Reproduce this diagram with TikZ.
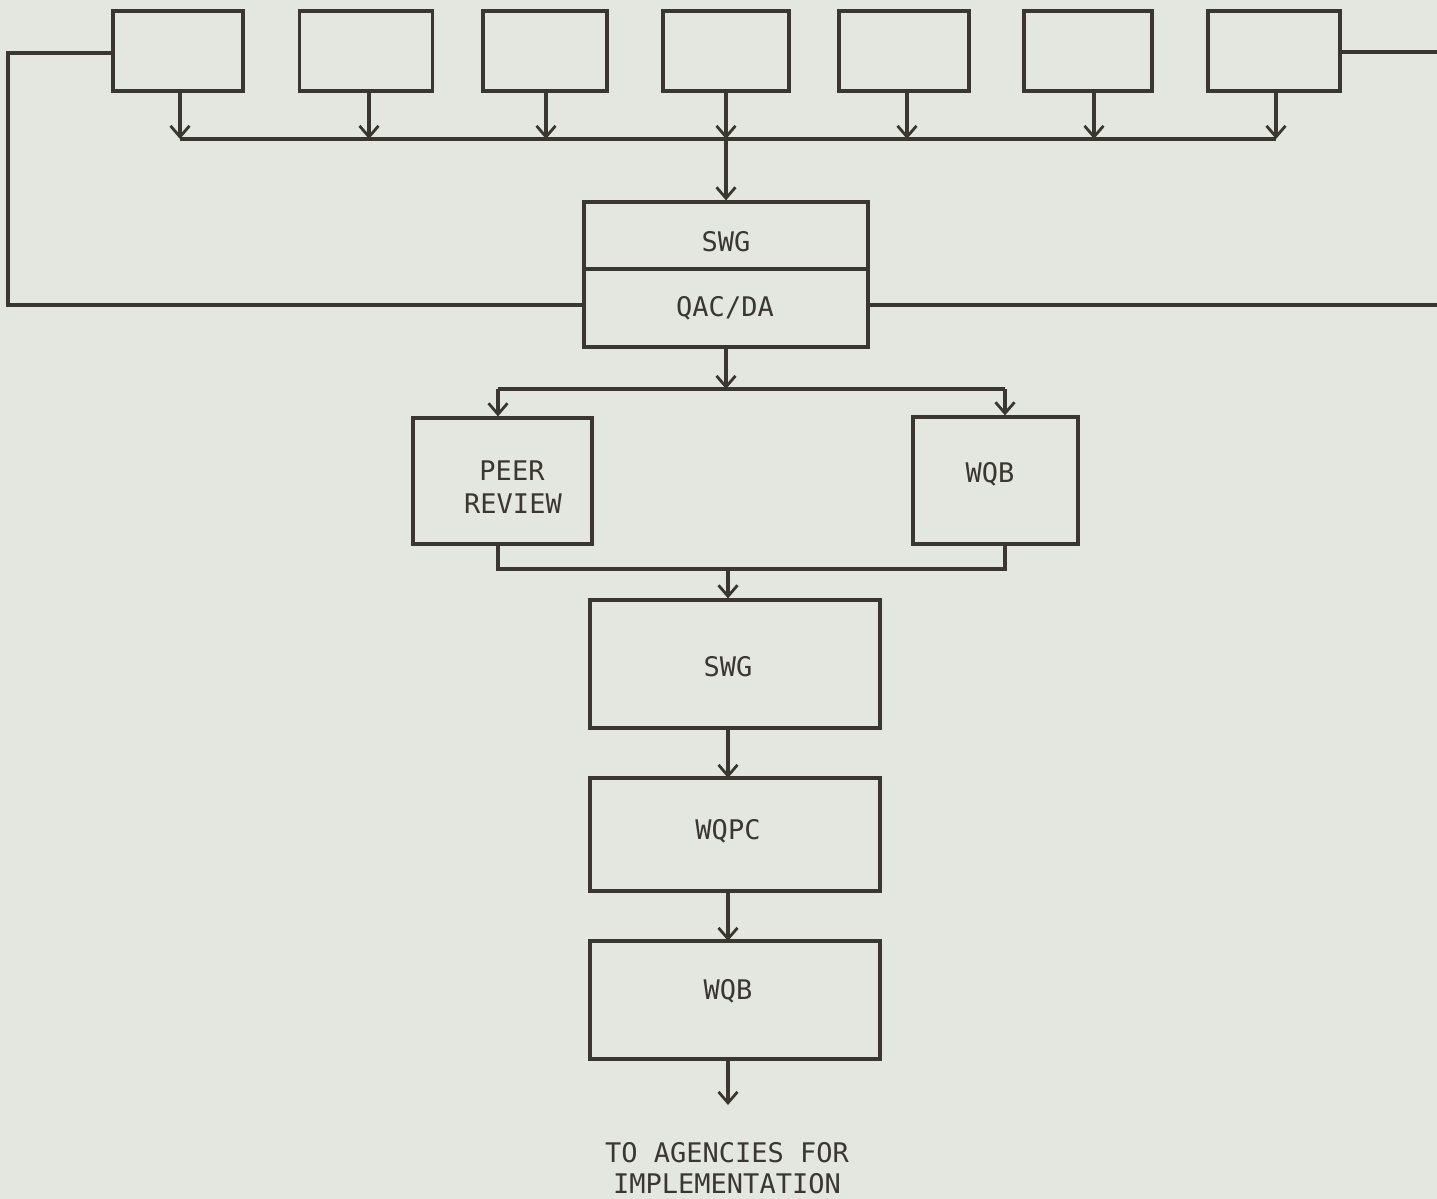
\documentclass[tikz,border=0pt]{standalone}
\usepackage{fontspec}
\newfontfamily\tw{DejaVu Sans Mono}
\usetikzlibrary{arrows.meta}
\definecolor{paper}{RGB}{228,231,224}
\definecolor{ink}{RGB}{58,54,48}
\begin{document}
\begin{tikzpicture}[x=0.5pt,y=-0.5pt,
  box/.style args={#1x#2}{draw=ink,line width=1.6pt,inner sep=0pt,
    minimum width={#1*0.5pt},minimum height={#2*0.5pt}},
  lbl/.style={text=ink,inner sep=0pt,anchor=base,font=\tw\fontsize{13.5}{16.5}\selectfont},
  wire/.style={draw=ink,line width=1.6pt},
  arr/.style={wire,-{Straight Barb[length=5.5pt,width=9.5pt,line width=1.4pt]}}]
\fill[paper] (0,0) rectangle (1437,1199);
\useasboundingbox (0,0) rectangle (1437,1199);
% top row of boxes
\node[box=130x80] (b1) at (178,51) {};
\node[box=133x80] (b2) at (366,51) {};
\node[box=124x80] (b3) at (545,51) {};
\node[box=126x80] (b4) at (726,51) {};
\node[box=130x80] (b5) at (904,51) {};
\node[box=128x80] (b6) at (1088,51) {};
\node[box=132x80] (b7) at (1274,51) {};
% bus
\coordinate (busL) at (180,139);
\coordinate (busR) at (1276,139);
\coordinate (busM) at (726,139);
\draw[wire] (busL) -- (busR);
\foreach \n/\xx in {b1/180,b2/369,b3/546,b4/726,b5/907,b6/1094,b7/1276}
  \draw[arr] (\n.south -| \xx,0) -- (\xx,139);
% SWG / QAC box
\node[box=284x67] (swg) at (726,235.5) {};
\node[box=284x78] (qac) at (726,308) {};
\node[lbl] (tswg) at (726,251) {SWG};
\node[lbl] (tqac) at (725,316) {QAC/DA};
\draw[arr] (busM) -- (swg.north);
% feedback lines
\coordinate (lc1) at (8,53);
\coordinate (lc2) at (8,305);
\draw[wire] (b1.west |- lc1) -- (lc1) -- (lc2) -- (qac.west |- lc2);
\coordinate (rc1) at (1437,52);
\coordinate (rc2) at (1437,305);
\draw[wire] (b7.east |- rc1) -- (rc1);
\draw[wire] (qac.east |- rc2) -- (rc2);
% split
\coordinate (sp) at (726,389);
\coordinate (spL) at (498,389);
\coordinate (spR) at (1005,389);
\draw[arr] (qac.south) -- (sp);
\draw[wire] (spL) -- (spR);
\node[box=179x126] (peer) at (502.5,481) {};
\node[box=165x127] (wqbr) at (995.5,480.5) {};
\node[lbl] (tpeer1) at (512,480) {PEER};
\node[lbl] (tpeer2) at (513,513) {REVIEW};
\node[lbl] (twqbr) at (990,482) {WQB};
\draw[arr] (spL) -- (spL |- peer.north);
\draw[arr] (spR) -- (spR |- wqbr.north);
% merge
\coordinate (mL) at (498,569);
\coordinate (mR) at (1005,569);
\coordinate (mM) at (728,569);
\draw[wire] (mL |- peer.south) -- (mL) -- (mR) -- (mR |- wqbr.south);
% lower chain
\node[box=290x128] (swg2) at (735,664) {};
\node[box=290x113] (wqpc) at (735,834.5) {};
\node[box=290x118] (wqb2) at (735,1000) {};
\node[lbl] (tswg2) at (728,676) {SWG};
\node[lbl] (twqpc) at (728,839) {WQPC};
\node[lbl] (twqb2) at (728,999) {WQB};
\draw[arr] (mM) -- (mM |- swg2.north);
\draw[arr] (728,728) -- (728,778);
\draw[arr] (728,891) -- (728,941);
\coordinate (tip) at (728,1105);
\draw[arr] (728,1059) -- (tip);
\node[lbl] (tag1) at (727,1162) {TO AGENCIES FOR};
\node[lbl] (tag2) at (727,1193) {IMPLEMENTATION};
\end{tikzpicture}
\end{document}
